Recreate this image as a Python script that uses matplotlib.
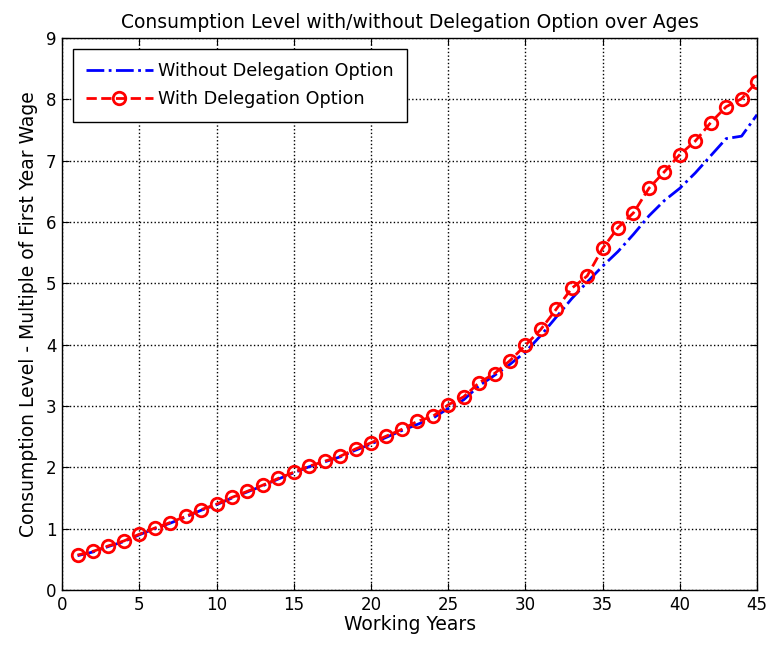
import numpy as np
import matplotlib
matplotlib.use("Agg")
import matplotlib.pyplot as plt

plt.rcParams['font.family'] = ['DejaVu Sans']

# --- data ---
years = np.arange(1, 46)
with_deleg = [0.57, 0.63, 0.72, 0.80, 0.91, 1.01, 1.10, 1.20, 1.31, 1.40,
              1.51, 1.61, 1.71, 1.82, 1.92, 2.02, 2.10, 2.18, 2.30, 2.40,
              2.51, 2.62, 2.75, 2.83, 3.02, 3.15, 3.38, 3.53, 3.74, 3.99,
              4.25, 4.58, 4.92, 5.12, 5.57, 5.91, 6.15, 6.55, 6.82, 7.10,
              7.32, 7.62, 7.88, 8.01, 8.29]
without_deleg = [0.56, 0.62, 0.71, 0.79, 0.90, 1.00, 1.09, 1.19, 1.30, 1.39,
                 1.50, 1.60, 1.70, 1.81, 1.91, 2.01, 2.09, 2.17, 2.28, 2.38,
                 2.49, 2.60, 2.70, 2.80, 2.96, 3.10, 3.33, 3.50, 3.68, 3.88,
                 4.15, 4.45, 4.75, 5.02, 5.28, 5.52, 5.80, 6.10, 6.35, 6.55,
                 6.80, 7.08, 7.36, 7.40, 7.75]

fig = plt.figure(figsize=(7.67, 6.5), dpi=100)
ax = fig.add_axes([0.081, 0.0923, 0.906, 0.8492])

ax.plot(years, without_deleg, color='blue', linestyle='-.', linewidth=2,
        label='Without Delegation Option')
ax.plot(years, with_deleg, color='red', linestyle='--', linewidth=2,
        marker='o', markersize=9, markerfacecolor='none',
        markeredgewidth=2, label='With Delegation Option')

ax.set_xlim(0, 45)
ax.set_ylim(0, 9)
ax.set_xticks(range(0, 46, 5))
ax.set_yticks(range(0, 10))
ax.grid(True, color='black', linestyle=':', linewidth=1)
ax.tick_params(direction='in', top=True, right=True, labelsize=12, length=5, pad=4)
for s in ax.spines.values():
    s.set_linewidth(1)

ax.set_title('Consumption Level with/without Delegation Option over Ages', fontsize=13.5, pad=7)
ax.set_xlabel('Working Years', fontsize=13.5, labelpad=1)
ax.set_ylabel('Consumption Level - Multiple of First Year Wage', fontsize=13.5, labelpad=6)

leg = ax.legend(loc='upper left', fontsize=12.7, fancybox=False, edgecolor='black',
                framealpha=1, handlelength=3.8, borderaxespad=0.6, borderpad=0.75,
                labelspacing=0.6, handletextpad=0.3)
leg.get_frame().set_linewidth(1)

fig.savefig('out.png', dpi=100)
